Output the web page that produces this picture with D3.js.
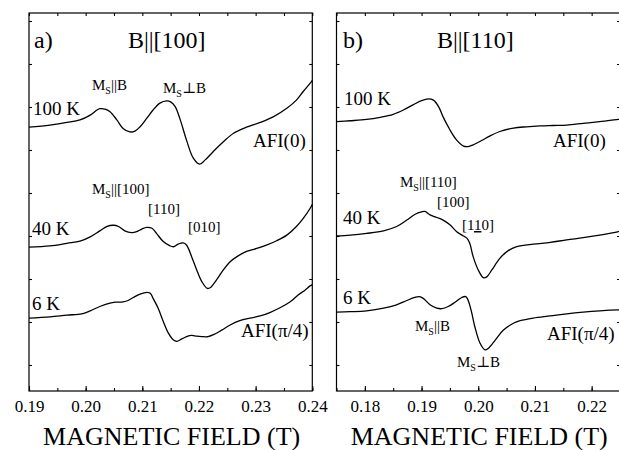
<!DOCTYPE html>
<html>
<head>
<meta charset="utf-8">
<script src="https://cdn.jsdelivr.net/npm/d3@7"></script>
<style>
  body { margin: 0; background: #fff; }
  svg text { font-family: "Times New Roman", Times, "Liberation Serif", "DejaVu Serif", serif !important; fill: #000; }
</style>
</head>
<body>
<div class="chart"></div>
<script>
// EPR spectra, derivative signal in arbitrary units vs magnetic field (T)

// panel a) B||[100]
var a100K = [[0.1900,6.53],[0.1937,6.58],[0.1967,6.64],[0.1990,6.70],[0.2008,6.81],[0.2020,6.93],[0.2025,6.96],[0.2034,6.95],[0.2043,6.89],[0.2055,6.70],[0.2066,6.50],[0.2078,6.42],[0.2087,6.44],[0.2096,6.54],[0.2108,6.74],[0.2119,6.93],[0.2131,7.09],[0.2143,7.14],[0.2150,7.12],[0.2158,7.01],[0.2167,6.70],[0.2178,6.23],[0.2190,5.81],[0.2201,5.67],[0.2211,5.77],[0.2225,5.96],[0.2243,6.19],[0.2261,6.39],[0.2284,6.53],[0.2308,6.64],[0.2331,6.77],[0.2355,6.97],[0.2372,7.16],[0.2384,7.36],[0.2396,7.55],[0.2400,7.62]];
var a40K = [[0.1900,3.74],[0.1937,3.77],[0.1967,3.83],[0.1990,3.88],[0.2008,3.98],[0.2025,4.12],[0.2037,4.22],[0.2049,4.25],[0.2058,4.22],[0.2069,4.12],[0.2081,4.08],[0.2090,4.10],[0.2099,4.16],[0.2108,4.20],[0.2117,4.18],[0.2125,4.06],[0.2137,3.87],[0.2149,3.77],[0.2155,3.75],[0.2163,3.81],[0.2172,3.84],[0.2178,3.79],[0.2187,3.52],[0.2196,3.21],[0.2205,2.94],[0.2215,2.78],[0.2221,2.81],[0.2231,2.98],[0.2243,3.21],[0.2255,3.40],[0.2267,3.52],[0.2284,3.64],[0.2302,3.71],[0.2319,3.79],[0.2337,3.89],[0.2355,4.02],[0.2372,4.22],[0.2384,4.41],[0.2396,4.64],[0.2400,4.74]];
var a6K = [[0.1900,2.09],[0.1937,2.12],[0.1967,2.16],[0.1993,2.19],[0.2008,2.26],[0.2025,2.36],[0.2043,2.44],[0.2052,2.46],[0.2066,2.47],[0.2075,2.50],[0.2084,2.57],[0.2096,2.65],[0.2108,2.69],[0.2114,2.67],[0.2119,2.55],[0.2128,2.32],[0.2137,2.01],[0.2146,1.74],[0.2155,1.58],[0.2161,1.55],[0.2169,1.60],[0.2178,1.66],[0.2187,1.69],[0.2196,1.67],[0.2205,1.66],[0.2216,1.66],[0.2228,1.72],[0.2240,1.81],[0.2255,1.93],[0.2272,2.03],[0.2290,2.09],[0.2308,2.14],[0.2325,2.22],[0.2343,2.33],[0.2361,2.47],[0.2375,2.63],[0.2387,2.74],[0.2396,2.84],[0.2400,2.87]];

// panel b) B||[110]
var b100K = [[0.1750,6.66],[0.1774,6.68],[0.1803,6.71],[0.1827,6.76],[0.1850,6.83],[0.1868,6.93],[0.1885,7.05],[0.1900,7.15],[0.1912,7.19],[0.1921,7.16],[0.1930,7.01],[0.1938,6.77],[0.1950,6.47],[0.1962,6.23],[0.1974,6.09],[0.1982,6.08],[0.1991,6.12],[0.2006,6.22],[0.2021,6.33],[0.2038,6.43],[0.2062,6.51],[0.2085,6.54],[0.2109,6.56],[0.2132,6.57],[0.2156,6.58],[0.2185,6.62],[0.2214,6.66],[0.2247,6.71],[0.2250,6.72]];
var b40K = [[0.1750,4.00],[0.1774,4.02],[0.1803,4.06],[0.1833,4.12],[0.1856,4.22],[0.1874,4.37],[0.1888,4.50],[0.1900,4.56],[0.1906,4.57],[0.1915,4.49],[0.1927,4.43],[0.1938,4.37],[0.1950,4.26],[0.1962,4.10],[0.1974,4.00],[0.1980,3.95],[0.1985,3.83],[0.1991,3.52],[0.2000,3.21],[0.2009,3.03],[0.2015,3.05],[0.2024,3.21],[0.2038,3.48],[0.2053,3.66],[0.2068,3.75],[0.2097,3.81],[0.2127,3.85],[0.2156,3.91],[0.2185,3.96],[0.2214,4.02],[0.2247,4.10],[0.2250,4.12]];
var b6K = [[0.1750,2.23],[0.1774,2.24],[0.1803,2.26],[0.1833,2.32],[0.1856,2.40],[0.1874,2.50],[0.1888,2.57],[0.1896,2.59],[0.1903,2.55],[0.1915,2.40],[0.1927,2.32],[0.1936,2.31],[0.1947,2.36],[0.1959,2.46],[0.1971,2.57],[0.1978,2.59],[0.1982,2.51],[0.1988,2.24],[0.1994,1.89],[0.2003,1.51],[0.2012,1.35],[0.2018,1.39],[0.2030,1.58],[0.2044,1.81],[0.2062,1.97],[0.2074,2.03],[0.2097,2.09],[0.2127,2.14],[0.2156,2.19],[0.2185,2.23],[0.2214,2.26],[0.2247,2.28],[0.2250,2.28]];

var aTicks = [0.19, 0.20, 0.21, 0.22, 0.23, 0.24];
var bTicks = [0.18, 0.19, 0.20, 0.21, 0.22];
var yTicks = [1, 2, 3, 4, 5, 6, 7, 8, 9];

var w = 619;
var h = 450;

var svg = d3.select(".chart")
            .append("svg")
            .attr("width", w)
            .attr("height", h);

var y = d3.scaleLinear().domain([0.395, 9.186]).range([391, 13]);

function drawPanel(opt) {
  var x = d3.scaleLinear().domain(opt.domain).range(opt.range);
  var g = svg.append("g");
  var minor = d3.range(opt.domain[0], opt.domain[1] + 1e-6, 0.005);

  // frame
  g.append("rect")
    .attr("x", opt.range[0]).attr("y", 13)
    .attr("width", opt.range[1] - opt.range[0]).attr("height", 378)
    .attr("fill", "none").attr("stroke", "#000").attr("stroke-width", 1.2);

  // ticks, all pointing inward
  var xAxisB = d3.axisBottom(x).tickValues(minor).tickSize(-3).tickFormat("");
  var xAxisT = d3.axisTop(x).tickValues(minor).tickSize(-3).tickFormat("");
  g.append("g").attr("transform", "translate(0,391)").call(xAxisB);
  g.append("g").attr("transform", "translate(0,13)").call(xAxisT);
  g.append("g").attr("transform", "translate(0,391)")
    .call(d3.axisBottom(x).tickValues(opt.ticks).tickSize(-5).tickPadding(9)
      .tickFormat(d3.format(".2f")));
  g.append("g").attr("transform", "translate(" + opt.range[0] + ",0)")
    .call(d3.axisLeft(y).tickValues(yTicks).tickSize(-3).tickFormat(""));
  g.append("g").attr("transform", "translate(" + opt.range[1] + ",0)")
    .call(d3.axisRight(y).tickValues(yTicks).tickSize(-3).tickFormat(""));
  g.selectAll(".domain").remove();
  g.selectAll(".tick line").attr("stroke", "#000").attr("stroke-width", 1.1);
  g.selectAll(".tick text")
    .style("font-size", "17px").attr("fill", "#000");

  var line = d3.line()
    .x(function(d) { return x(d[0]); })
    .y(function(d) { return y(d[1]); })
    .curve(d3.curveCatmullRom);

  opt.series.forEach(function(s) {
    g.append("path")
      .attr("d", line(s))
      .attr("fill", "none")
      .attr("stroke", "#000")
      .attr("stroke-width", 1.3);
  });

  g.append("text")
    .attr("x", (opt.range[0] + opt.range[1]) / 2 + 1)
    .attr("y", 445)
    .attr("text-anchor", "middle")
    .style("font-size", "26px")
    .text("MAGNETIC FIELD (T)");

  return g;
}

function label(g, x, yy, size, txt) {
  return g.append("text").attr("x", x).attr("y", yy)
    .style("font-size", size + "px").text(txt);
}

// M with subscript S followed by rest
function msLabel(g, x, yy, rest) {
  var t = g.append("text").attr("x", x).attr("y", yy).style("font-size", "15px");
  t.append("tspan").text("M");
  t.append("tspan").attr("dy", 4).style("font-size", "10px").text("S");
  t.append("tspan").attr("dy", -4).text(rest);
  return t;
}

var ga = drawPanel({ domain: [0.19, 0.24], range: [29, 312.3], ticks: aTicks, series: [a100K, a40K, a6K] });
label(ga, 34, 48, 24, "a)");
label(ga, 128, 48, 24, "B||[100]");
label(ga, 33, 115, 19, "100 K");
label(ga, 32, 235, 19, "40 K");
label(ga, 32, 310, 19, "6 K");
label(ga, 253, 147, 19, "AFI(0)");
label(ga, 241, 337, 19, "AFI(\u03c0/4)");
msLabel(ga, 92, 90, "||B");
msLabel(ga, 163, 93, "\u22a5B");
msLabel(ga, 92, 194, "||[100]");
label(ga, 148, 214, 15, "[110]");
label(ga, 188, 232, 15, "[010]");

var gb = drawPanel({ domain: [0.175, 0.225], range: [336.5, 620], ticks: bTicks, series: [b100K, b40K, b6K] });
label(gb, 343, 48, 24, "b)");
label(gb, 437, 48, 24, "B||[110]");
label(gb, 344, 105, 19, "100 K");
label(gb, 343, 224, 19, "40 K");
label(gb, 343, 304, 19, "6 K");
label(gb, 553, 147, 19, "AFI(0)");
label(gb, 547, 340, 19, "AFI(\u03c0/4)");
msLabel(gb, 400, 187, "||[110]");
label(gb, 437, 207, 15, "[100]");
var t110 = gb.append("text").attr("x", 462).attr("y", 230).style("font-size", "15px");
t110.append("tspan").text("[1");
t110.append("tspan").style("text-decoration", "underline").text("1");
t110.append("tspan").text("0]");
msLabel(gb, 415, 331, "||B");
msLabel(gb, 457, 367, "\u22a5B");
</script>
</body>
</html>
